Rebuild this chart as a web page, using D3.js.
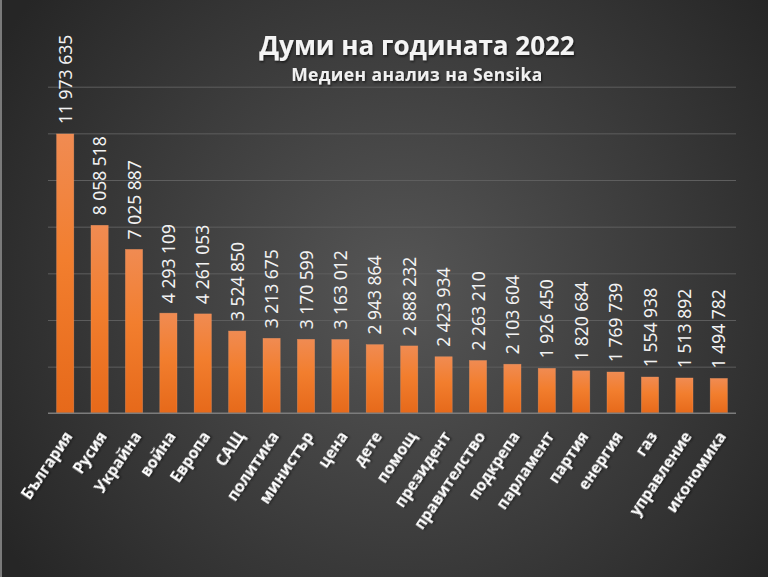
<!DOCTYPE html>
<html>
<head>
<meta charset="utf-8">
<script src="https://cdn.jsdelivr.net/npm/d3@7"></script>
<style>
  html, body { margin: 0; padding: 0; background: #333; }
  svg { display: block; }
</style>
</head>
<body>
<svg id="chart" width="768" height="577"></svg>
<script>
const categories = ["България","Русия","Украйна","война","Европа","САЩ","политика","министър","цена","дете","помощ","президент","правителство","подкрепа","парламент","партия","енергия","газ","управление","икономика"];
const values = [11973635,8058518,7025887,4293109,4261053,3524850,3213675,3170599,3163012,2943864,2888232,2423934,2263210,2103604,1926450,1820684,1769739,1554938,1513892,1494782];
const gridTicks = [0,2000000,4000000,6000000,8000000,10000000,12000000,14000000];
const titleText = "Думи на годината 2022";
const subtitleText = "Медиен анализ на Sensika";

const W = 768, H = 577;
const margin = {left: 48, right: 32, top: 86.7, bottom: 163.7};
const svg = d3.select("#chart");
const defs = svg.append("defs");

const bg = defs.append("radialGradient").attr("id","bg")
  .attr("gradientUnits","userSpaceOnUse").attr("cx",400).attr("cy",290).attr("r",470);
bg.append("stop").attr("offset","0%").attr("stop-color","#565656");
bg.append("stop").attr("offset","100%").attr("stop-color","#262626");

const barG = defs.append("linearGradient").attr("id","barG").attr("x1",0).attr("y1",0).attr("x2",0).attr("y2",1);
barG.append("stop").attr("offset","0%").attr("stop-color","#f08b52");
barG.append("stop").attr("offset","45%").attr("stop-color","#f27e2e");
barG.append("stop").attr("offset","100%").attr("stop-color","#e6691a");

const shadow = defs.append("filter").attr("id","ts").attr("x","-10%").attr("y","-30%").attr("width","130%").attr("height","160%");
shadow.append("feDropShadow").attr("dx",1).attr("dy",1.5).attr("stdDeviation",1.2).attr("flood-color","#000").attr("flood-opacity",0.6);

svg.append("rect").attr("width",W).attr("height",H).attr("fill","url(#bg)");
svg.append("rect").attr("x",0).attr("y",0).attr("width",2).attr("height",H).attr("fill","#7a7a7a");

const x = d3.scaleBand().domain(categories).range([margin.left, W - margin.right]).paddingInner(0.5).paddingOuter(0.25);
const y = d3.scaleLinear().domain([0, 14000000]).range([H - margin.bottom, margin.top]);

// gridlines
const grid = svg.append("g")
  .attr("transform", `translate(${margin.left},0)`)
  .call(d3.axisLeft(y).tickValues(gridTicks.slice(1)).tickSize(-(W - margin.left - margin.right)).tickFormat(""));
grid.select(".domain").remove();
grid.selectAll(".tick line").attr("stroke","#5e5e5e").attr("stroke-width",1);

// bars
svg.append("g").selectAll("rect").data(categories).join("rect")
  .attr("x", d => x(d))
  .attr("y", (d,i) => y(values[i]))
  .attr("width", x.bandwidth())
  .attr("height", (d,i) => y(0) - y(values[i]))
  .attr("fill","url(#barG)")
  .attr("stroke","#f39a66").attr("stroke-width",0.6).attr("stroke-opacity",0.6);

// x axis
const xa = svg.append("g").attr("transform", `translate(0,${y(0)})`)
  .call(d3.axisBottom(x).tickSize(0).tickPadding(0));
xa.select(".domain").attr("stroke","#7c7c7c").attr("stroke-width",1.5).attr("d", `M${margin.left},0H${W - margin.right}`);
xa.selectAll(".tick text")
  .attr("fill","#ffffff")
  .attr("font-family","'Open Sans', sans-serif")
  .attr("font-weight","bold")
  .attr("font-size","15.5px")
  .attr("text-anchor","end")
  .attr("dy","0")
  .attr("y", 0)
  .attr("transform","translate(8,23) rotate(-56)")
  .attr("filter","url(#ts)");

// value labels
const fmt = v => d3.format(",")(v).replace(/,/g, " ");
svg.append("g").selectAll("text").data(categories).join("text")
  .attr("transform", (d,i) => `translate(${x(d) + x.bandwidth()/2 + 6.5},${y(values[i]) - 10}) rotate(-90)`)
  .attr("fill","#f2f2f2")
  .attr("font-family","'Noto Sans', sans-serif")
  .attr("font-size","17.5px")
  .attr("text-anchor","start")
  .text((d,i) => fmt(values[i]));

// titles
svg.append("text").attr("x",417).attr("y",55).attr("text-anchor","middle")
  .attr("fill","#f4f4f4").attr("font-family","'Open Sans', sans-serif").attr("font-weight","bold")
  .attr("font-size","26px").attr("filter","url(#ts)").text(titleText);
svg.append("text").attr("x",417).attr("y",81).attr("text-anchor","middle")
  .attr("fill","#f0f0f0").attr("font-family","'Open Sans', sans-serif").attr("font-weight","bold")
  .attr("font-size","17.5px").attr("letter-spacing","0.4px").attr("filter","url(#ts)").text(subtitleText);
</script>
</body>
</html>
